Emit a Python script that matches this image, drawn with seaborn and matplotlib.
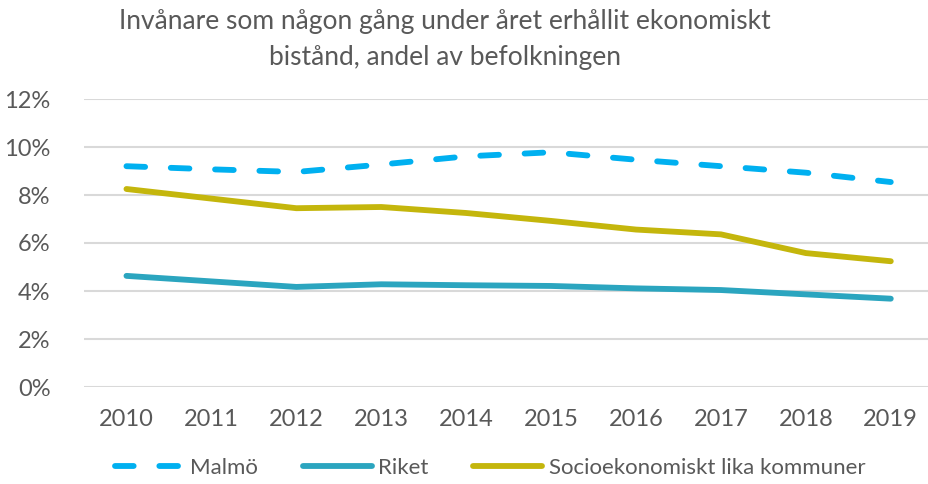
import matplotlib
matplotlib.use("Agg")
import matplotlib.pyplot as plt
import seaborn as sns
import pandas as pd

# Values (share of population, %)
years = [2010, 2011, 2012, 2013, 2014, 2015, 2016, 2017, 2018, 2019]
malmo = [9.2, 9.07, 8.96, 9.27, 9.61, 9.78, 9.47, 9.2, 8.93, 8.54]
riket = [4.63, 4.4, 4.17, 4.28, 4.24, 4.21, 4.11, 4.04, 3.86, 3.68]
socio = [8.25, 7.85, 7.45, 7.5, 7.25, 6.92, 6.56, 6.36, 5.58, 5.24]
series_names = ["Malmö", "Riket", "Socioekonomiskt lika kommuner"]
yticks = [0, 2, 4, 6, 8, 10, 12]
title = "Invånare som någon gång under året erhållit ekonomiskt\nbistånd, andel av befolkningen"

colors = {"Malmö": "#00b0f0", "Riket": "#2ba5bf", "Socioekonomiskt lika kommuner": "#c4b60c"}
styles = {"Malmö": (0, (3.2, 4.4)), "Riket": "-", "Socioekonomiskt lika kommuner": "-"}
text_color = "#595959"

sns.set_theme(style="white")
plt.rcParams["font.family"] = ["Lato", "DejaVu Sans"]

df = pd.DataFrame({"year": years, "Malmö": malmo, "Riket": riket,
                   "Socioekonomiskt lika kommuner": socio})

fig = plt.figure(figsize=(9.29, 4.84), dpi=100)
ax = fig.add_axes([84 / 929, 1 - 387 / 484, (929 - 84) / 929, (387 - 99) / 484])

for name in series_names:
    sns.lineplot(data=df, x="year", y=name, ax=ax, color=colors[name], linewidth=4.2,
                 linestyle=styles[name], label=name, solid_capstyle="round",
                 dash_capstyle="round")

ax.set_xlim(2009.5, 2019.45)
ax.set_ylim(0, 12)
ax.set_yticks(yticks)
ax.set_yticklabels([f"{t}%" for t in yticks])
ax.set_xticks(years)
ax.set_xticklabels([str(y) for y in years])
ax.set_xlabel("")
ax.set_ylabel("")
ax.grid(axis="y", color="#d9d9d9", linewidth=1.5)
ax.set_axisbelow(True)
for s in ax.spines.values():
    s.set_visible(False)
ax.tick_params(axis="y", length=0, pad=24, labelsize=17, labelcolor=text_color)
ax.tick_params(axis="x", length=0, pad=16, labelsize=17, labelcolor=text_color)

handles, labels = ax.get_legend_handles_labels()
ax.legend_.remove()
leg = fig.legend(handles, labels, loc="center", bbox_to_anchor=(490 / 929, 0.033), ncol=3,
                 frameon=False, fontsize=16, handlelength=3.1, handletextpad=0.3,
                 columnspacing=2.0)
for t in leg.get_texts():
    t.set_color(text_color)

fig.text(445 / 929, 1 - 9 / 484, title, ha="center", va="top", fontsize=19,
         color=text_color, linespacing=1.55)

fig.savefig("out.png", dpi=100)
